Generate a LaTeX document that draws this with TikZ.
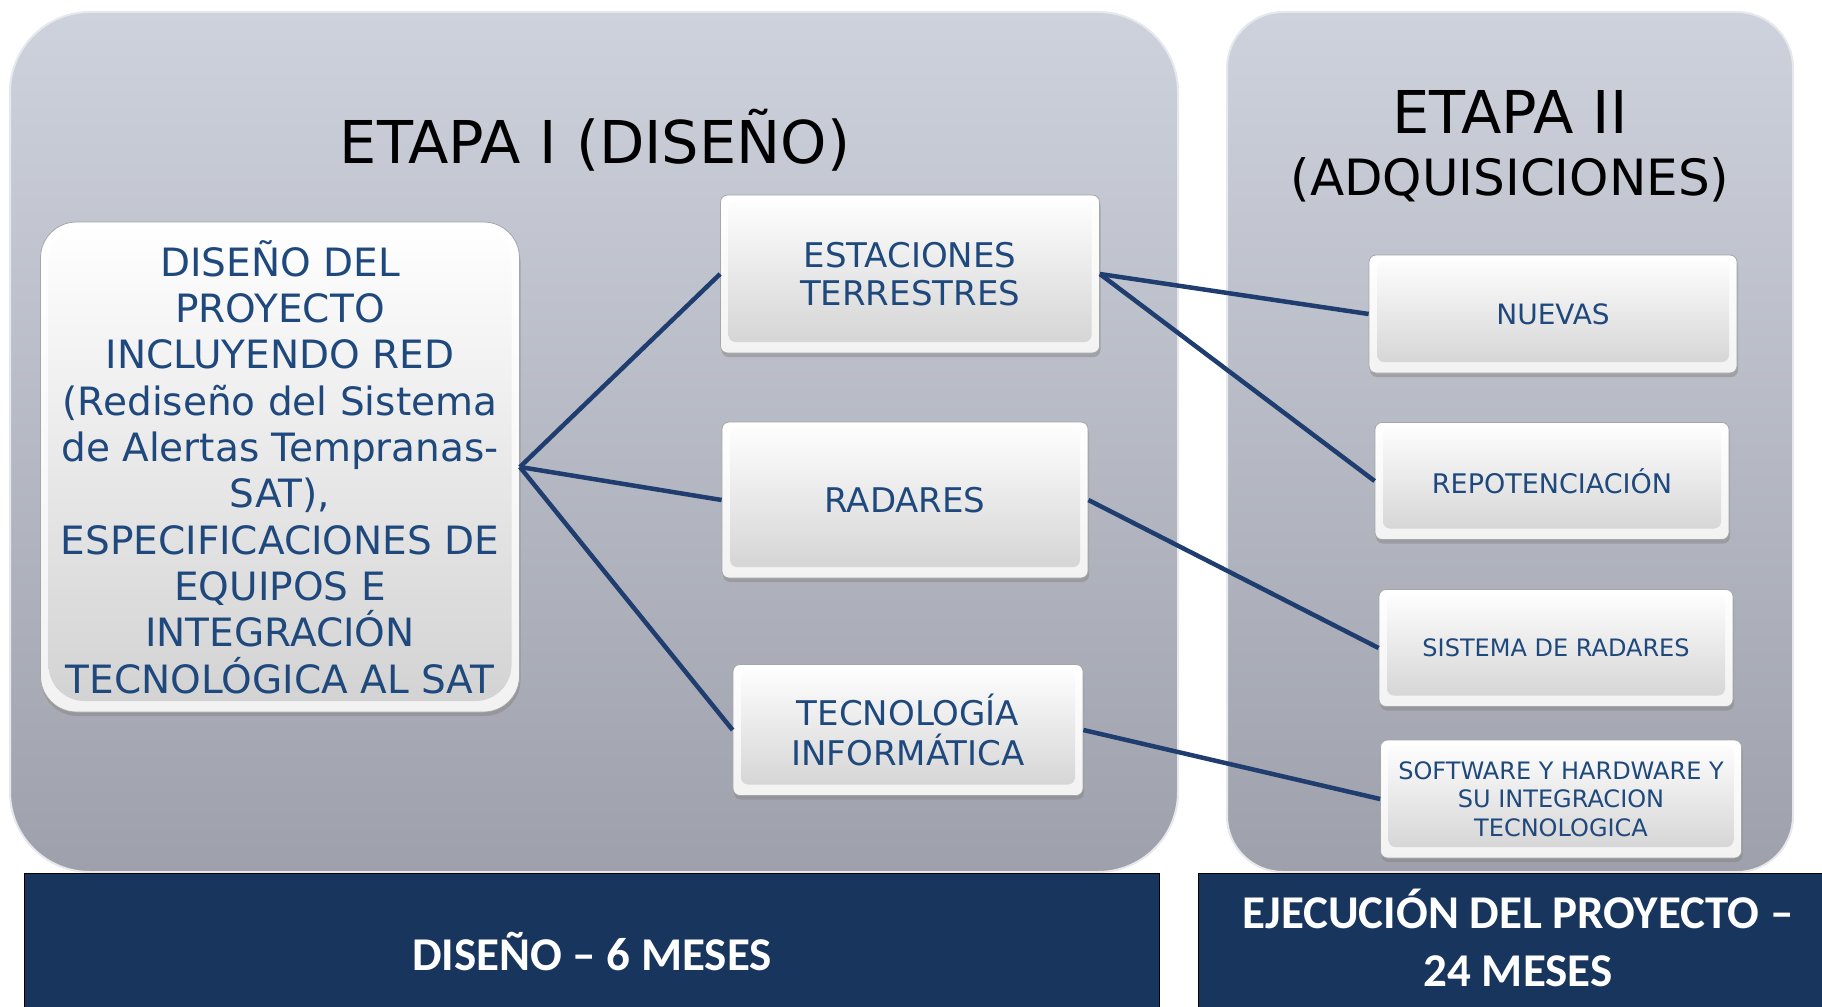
\documentclass[tikz,border=0pt]{standalone}
\usepackage{fontspec}
\setmainfont{DejaVu Sans}
\newfontfamily\barfont{Carlito}
\usepackage{tikz}
\usetikzlibrary{shadows}
\definecolor{paneltop}{RGB}{206,210,221}
\definecolor{panelbot}{RGB}{158,161,171}
\definecolor{barblue}{RGB}{24,54,93}
\definecolor{txtblue}{RGB}{31,73,125}
\definecolor{linkblue}{RGB}{31,61,110}
\definecolor{facet}{RGB}{242,242,242}
\definecolor{boxgray}{RGB}{210,210,210}

\begin{document}
\begin{tikzpicture}[x=1pt,y=-1pt,
        panel/.style={top color=paneltop,bottom color=panelbot,draw=paneltop!50!white,line width=2pt},
        main node/.style={draw=gray!70,line width=0.8pt,rounded corners=#1,top color=white,bottom color=facet,
            drop shadow={shadow xshift=1pt,shadow yshift=-4pt,opacity=0.45},
            text=txtblue,align=center,inner sep=0pt,
            path picture={\path[rounded corners=#1,top color=white,bottom color=boxgray]
                ([shift={(8pt,-6pt)}]path picture bounding box.north west) rectangle
                ([shift={(-8pt,11pt)}]path picture bounding box.south east);}},
        main node/.default=7pt,
        title/.style={anchor=base,text=black},
        bar/.style={fill=barblue,draw=black,line width=1pt},
        bar text/.style={text=white,align=center,font=\barfont\bfseries\fontsize{47}{58}\selectfont},
        link/.style={draw=linkblue,line width=4.5pt}]

    \useasboundingbox (0,0) rectangle (1822,1006);

    % Panels
    \draw[panel,rounded corners=80pt] (10,12) rectangle (1178,872);
    \draw[panel,rounded corners=56pt] (1227,12) rectangle (1793,872);

    % Bars
    \draw[bar] (24,873) rectangle (1159,1012);
    \draw[bar] (1198,873) rectangle (1830,1012);

    % Titles
    \node[title,font=\fontsize{59}{70}\selectfont] (etapa1) at (595,163) {ETAPA I (DISEÑO)};
    \node[title,font=\fontsize{59}{70}\selectfont] (etapa2) at (1510,133) {ETAPA II};
    \node[title,font=\fontsize{50}{60}\selectfont] (adq) at (1510,195) {(ADQUISICIONES)};

    % Nodes
    % Stage I
    \node[main node=36pt,minimum width=479pt,minimum height=490pt,font=\fontsize{39}{46.3}\selectfont] (dis) at (280,467)
        {DISEÑO DEL\\PROYECTO\\INCLUYENDO RED\\(Rediseño del Sistema\\de Alertas Tempranas-\\SAT),\\ESPECIFICACIONES DE\\EQUIPOS E\\INTEGRACIÓN\\TECNOLÓGICA AL SAT};
    \node[main node,minimum width=379pt,minimum height=158pt,font=\fontsize{34}{38}\selectfont] (est) at (910,274) {ESTACIONES\\TERRESTRES};
    \node[main node,minimum width=366pt,minimum height=156pt,font=\fontsize{34}{38}\selectfont] (rad) at (905,500) {RADARES};
    \node[main node,minimum width=350pt,minimum height=131pt,font=\fontsize{34}{40}\selectfont] (tec) at (908,730) {TECNOLOGÍA\\INFORMÁTICA};

    % Stage II
    \node[main node,minimum width=368pt,minimum height=118pt,font=\fontsize{28}{32}\selectfont] (nue) at (1553,314) {NUEVAS};
    \node[main node,minimum width=354pt,minimum height=117pt,font=\fontsize{27}{32}\selectfont] (rep) at (1552,481) {REPOTENCIACIÓN};
    \node[main node,minimum width=354pt,minimum height=117pt,font=\fontsize{24}{28.5}\selectfont] (sis) at (1556,648) {SISTEMA DE RADARES};
    \node[main node,minimum width=361pt,minimum height=118pt,font=\fontsize{24}{28.5}\selectfont] (sof) at (1561,799)
        {SOFTWARE Y HARDWARE Y\\SU INTEGRACION\\TECNOLOGICA};

    % Bar labels
    \node[bar text,anchor=base] (meses6) at (592,970) {DISEÑO – 6 MESES};
    \node[bar text,anchor=base] (meses24) at (1518,986) {EJECUCIÓN DEL PROYECTO –\\24 MESES};

    % Edges
    \draw[link] (dis.east) -- (est.west);
    \draw[link] (dis.east) -- (rad.west);
    \draw[link] (dis.east) -- (tec.west);

    \draw[link] (est.east) -- (nue.west);
    \draw[link] (est.east) -- (rep.west);
    \draw[link] (rad.east) -- (sis.west);
    \draw[link] (tec.east) -- (sof.west);
\end{tikzpicture}
\end{document}
